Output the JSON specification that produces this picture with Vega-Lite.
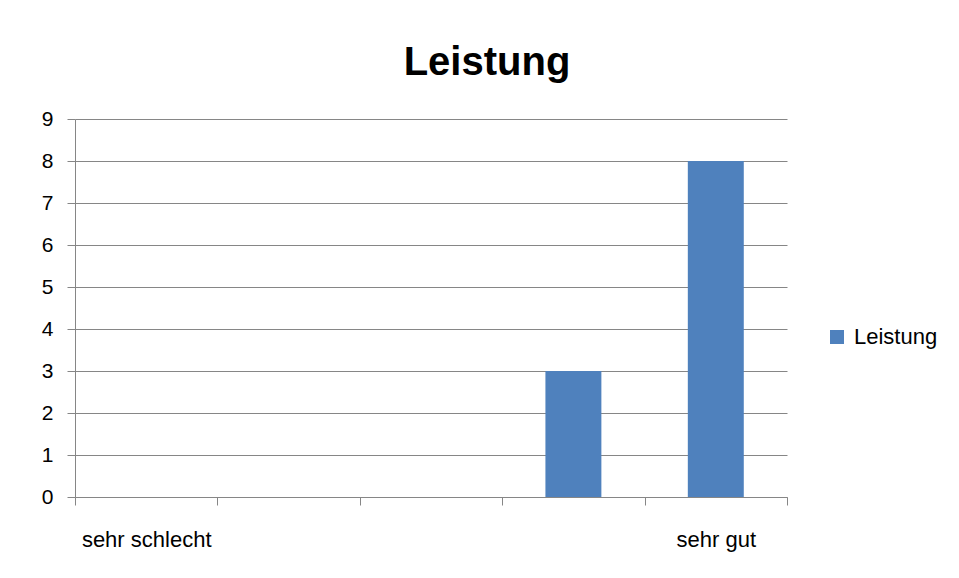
{
  "$schema": "https://vega.github.io/schema/vega-lite/v6.json",
  "autosize": {"type": "none"},
  "width": 712,
  "height": 378,
  "padding": {"left": 75, "top": 119, "right": 172, "bottom": 81},
  "background": "white",
  "title": {
    "text": "Leistung",
    "font": "Liberation Sans",
    "fontSize": 40,
    "fontWeight": "bold",
    "color": "#000000",
    "anchor": "middle",
    "frame": "group",
    "dx": 56,
    "dy": 52,
    "offset": 45,
    "baseline": "alphabetic"
  },
  "data": {
    "values": [
      {"kategorie": "sehr schlecht", "wert": 0},
      {"kategorie": "2", "wert": 0},
      {"kategorie": "3", "wert": 0},
      {"kategorie": "4", "wert": 3},
      {"kategorie": "sehr gut", "wert": 8}
    ]
  },
  "layer": [
    {
      "mark": {"type": "bar", "opacity": 0},
      "encoding": {
        "x": {
          "field": "kategorie",
          "type": "nominal",
          "sort": null,
          "scale": {"paddingInner": 0, "paddingOuter": 0},
          "axis": {
            "title": null,
            "orient": "bottom",
            "labelAngle": 0,
            "labelExpr": "datum.label == 'sehr schlecht' || datum.label == 'sehr gut' ? datum.label : ''",
            "labelFont": "Liberation Sans",
            "labelFontSize": 22,
            "labelColor": "#000000",
            "labelPadding": 24,
            "tickBand": "extent",
            "tickSize": 8,
            "tickColor": "#868686",
            "domainColor": "#868686",
            "grid": false
          }
        },
        "y": {
          "field": "wert",
          "type": "quantitative",
          "scale": {"domain": [0, 9], "nice": false},
          "axis": {
            "title": null,
            "values": [0, 1, 2, 3, 4, 5, 6, 7, 8, 9],
            "labelFont": "Liberation Sans",
            "labelFontSize": 21,
            "labelColor": "#000000",
            "labelPadding": 14,
            "tickSize": 8,
            "tickColor": "#868686",
            "domainColor": "#868686",
            "grid": true,
            "gridColor": "#868686",
            "gridOpacity": 1
          }
        }
      }
    },
    {
      "mark": {"type": "bar"},
      "encoding": {
        "x": {
          "field": "kategorie",
          "type": "nominal",
          "sort": null,
          "scale": {"paddingInner": 0.607, "paddingOuter": 0.3035},
          "axis": null
        },
        "y": {
          "field": "wert",
          "type": "quantitative"
        },
        "fill": {
          "datum": "Leistung",
          "type": "nominal",
          "scale": {"range": ["#4F81BD"]},
          "legend": {
            "title": null,
            "orient": "none",
            "legendX": 751,
            "legendY": 207,
            "symbolType": "square",
            "symbolSize": 196,
            "symbolStrokeWidth": 0,
            "labelFont": "Liberation Sans",
            "labelFontSize": 22,
            "labelColor": "#000000",
            "labelOffset": 6
          }
        }
      }
    }
  ],
  "resolve": {"scale": {"x": "independent"}},
  "config": {
    "view": {"stroke": null},
    "axis": {"domainWidth": 1, "tickWidth": 1, "gridWidth": 1}
  }
}
